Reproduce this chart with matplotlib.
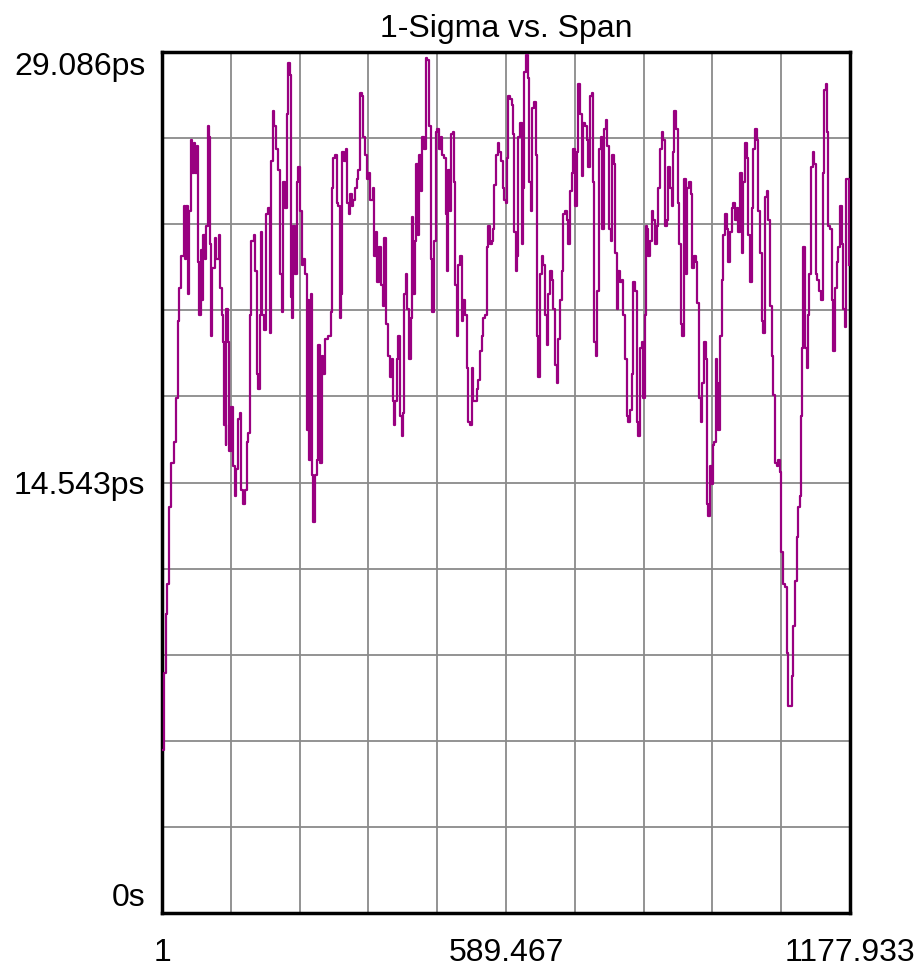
import matplotlib
matplotlib.use("Agg")
import matplotlib.pyplot as plt
import numpy as np

plt.rcParams['font.family'] = ['Liberation Sans', 'DejaVu Sans']

title = "1-Sigma vs. Span"
x_min, x_max = 1.0, 1177.933
y_min, y_max = 0.0, 29.086
x_tick_labels = {0: "1", 5: "589.467", 10: "1177.933"}
y_tick_labels = {0: "0s", 5: "14.543ps", 10: "29.086ps"}

span_a = [2, 4, 8, 10, 13, 17, 22, 25, 28, 30, 34, 38, 40, 42, 45, 48, 51, 53, 56, 58,
          61, 63, 65, 67, 69, 71, 75, 77, 79, 81, 83, 85, 87, 92, 94, 98, 100, 104, 106, 107,
          110, 111, 114, 116, 119, 122, 123, 126, 128, 131, 134, 136, 140, 143, 146, 148, 152, 154, 158, 160,
          163, 165, 168, 170, 172, 176, 179, 182, 186, 188, 191]
sigma_a = [5.5, 8.1, 10.1, 11.1, 13.7, 15.2, 15.9, 17.4, 20.0, 21.1, 22.2, 23.9, 22.1, 23.9, 20.9, 23.7, 26.1, 25.0, 26.0, 25.0,
           25.9, 22.0, 20.2, 22.4, 20.7, 22.9, 22.1, 23.2, 26.6, 26.2, 22.6, 19.5, 21.8, 22.8, 22.1, 22.9, 21.1, 20.2, 19.3, 16.5,
           15.8, 20.4, 19.3, 15.6, 17.1, 15.6, 15.1, 14.1, 15.0, 16.7, 16.9, 14.3, 13.8, 14.3, 15.9, 16.2, 20.2, 22.7, 22.9, 21.7,
           18.2, 17.7, 20.2, 23.0, 20.2, 19.7, 23.6, 23.8, 19.6, 25.4, 27.1]

span_b = [193.2, 196.0, 200.0, 202.9, 205.7, 208.6, 211.4, 214.3, 217.1, 220.0, 221.1, 222.8, 225.7, 228.5, 231.4,
          234.2, 237.1, 239.9, 242.8, 245.6, 248.5, 251.3, 253.0, 255.3, 257.0, 259.9, 262.7, 265.6, 268.4, 271.3,
          274.1, 277.0, 279.8, 285.5, 289.5, 292.4, 294.1, 296.9, 299.8, 302.6, 305.5, 307.2, 309.5, 312.3, 315.8,
          318.0, 320.9, 322.6, 325.5, 328.3, 331.2, 334.0, 336.9, 339.7, 342.6, 345.4, 348.3, 351.1, 354.0, 356.8,
          361.4, 363.7, 367.1, 369.4, 372.8, 375.6, 378.5, 381.3]
sigma_b = [26.6, 25.8, 25.1, 21.6, 20.3, 24.7, 23.8, 27.0, 28.7, 28.3, 20.8, 20.1, 23.2, 21.6, 24.7,
           25.2, 23.7, 21.9, 22.1, 21.6, 16.3, 20.7, 15.3, 20.9, 14.8, 13.2, 14.8, 15.3, 19.2, 15.2,
           18.8, 18.2, 19.4, 19.5, 20.3, 24.5, 25.5, 25.6, 24.0, 23.9, 20.1, 20.9, 25.7, 25.4, 25.8,
           24.0, 23.6, 24.3, 23.9, 24.1, 24.5, 24.8, 25.1, 27.7, 27.6, 26.2, 25.6, 24.8, 25.0, 24.1,
           24.5, 22.2, 23.0, 21.3, 22.5, 21.2, 20.5, 22.8]

span_c = [383.6, 385.0, 388.2, 391.0, 393.9, 395.6, 397.9, 399.6, 402.4, 405.3, 408.1, 411.0, 413.8, 415.6, 418.4,
          420.7, 423.5, 426.4, 429.2, 431.0, 433.8, 435.5, 438.4, 440.6, 443.5, 446.3, 449.2, 452.0, 454.9, 457.7,
          460.6, 463.5, 466.3, 469.2, 472.0, 474.9, 477.7, 480.6, 483.4, 486.3, 488.0, 490.8, 493.7, 495.4, 498.2,
          500.5, 502.2, 505.1, 507.9, 510.8, 513.6, 516.5, 519.3, 522.2, 525.0, 527.9, 530.7, 533.6, 536.4, 539.3,
          542.1, 545.0, 547.8, 550.7, 553.5, 556.4, 559.2, 562.1, 565.0, 567.8, 569.5]
sigma_c = [22.2, 19.9, 18.8, 18.1, 18.7, 17.3, 16.5, 17.3, 18.7, 19.5, 16.8, 16.1, 16.9, 20.9, 21.6,
           20.4, 18.7, 20.1, 23.5, 20.9, 22.7, 25.3, 22.9, 25.6, 24.4, 26.2, 25.8, 28.9, 28.8, 26.6,
           22.1, 20.3, 22.7, 26.4, 26.5, 25.8, 26.2, 25.6, 25.5, 23.6, 21.7, 25.1, 23.7, 26.3, 26.4,
           24.7, 21.2, 19.5, 21.9, 22.2, 20.0, 20.7, 20.2, 18.4, 16.6, 16.5, 18.4, 17.3, 17.3, 17.7,
           18.0, 19.0, 19.5, 20.1, 20.2, 22.5, 23.2, 22.6, 22.7, 23.1, 24.6]

span_d = [572.4, 575.2, 578.1, 580.9, 583.8, 586.0, 588.9, 591.7, 593.5, 596.3, 599.2, 602.0, 603.7, 606.6, 608.9,
          610.6, 613.4, 616.3, 619.1, 620.8, 623.7, 626.5, 629.4, 631.7, 634.5, 637.4, 640.2, 641.9, 644.8, 647.6,
          650.5, 653.3, 656.2, 659.0, 661.9, 664.7, 667.6, 670.4, 673.3, 676.1, 679.0, 681.8, 684.7, 687.5, 690.4,
          693.2, 696.1, 698.9, 701.8, 704.7, 707.5, 710.4, 713.2, 716.1, 718.9, 721.8, 724.6, 727.5, 730.3, 733.2,
          736.0, 737.7, 740.0, 743.4, 745.7, 748.6, 751.4, 754.3, 757.1]
sigma_d = [25.6, 26.0, 25.7, 25.4, 24.5, 24.1, 24.0, 25.5, 27.6, 27.5, 27.3, 26.3, 23.0, 21.7, 22.2,
           26.2, 26.7, 22.6, 24.5, 28.4, 29.0, 28.2, 24.7, 23.7, 27.2, 27.4, 25.6, 19.5, 18.1, 21.6,
           22.2, 21.9, 20.2, 19.2, 20.9, 21.7, 21.4, 20.4, 18.5, 17.9, 19.4, 20.7, 21.7, 23.6, 23.7,
           23.4, 22.6, 24.4, 25.0, 25.8, 23.9, 25.7, 28.0, 27.0, 24.9, 26.7, 26.6, 26.1, 25.2, 27.6,
           27.7, 24.7, 19.3, 18.8, 21.0, 25.8, 26.2, 23.1, 26.5]

span_e = [760.0, 762.8, 765.7, 768.5, 771.4, 774.2, 776.0, 778.8, 781.7, 784.5, 787.4, 790.2, 793.1, 795.9, 798.8,
          801.6, 804.5, 807.3, 810.2, 813.0, 815.9, 818.7, 821.6, 824.4, 827.8, 829.0, 830.1, 833.0, 835.8, 838.7,
          841.5, 844.4, 847.2, 850.1, 852.9, 855.8, 858.6, 861.5, 864.3, 867.2, 870.0, 872.9, 875.7, 877.5, 880.3,
          883.2, 886.0, 888.3, 891.1, 894.0, 896.8, 899.7, 902.5, 905.4, 908.3, 911.1, 914.0, 916.8, 919.7, 922.5,
          925.4, 928.2, 931.1, 932.8, 935.6, 938.5, 941.3, 944.2]
sigma_e = [26.8, 25.9, 23.1, 22.7, 25.6, 25.3, 22.3, 20.4, 21.7, 21.3, 21.4, 20.2, 18.7, 16.8, 16.6,
           17.0, 18.2, 21.3, 21.0, 16.6, 16.1, 19.1, 19.3, 17.4, 20.2, 23.2, 23.1, 22.2, 22.7, 23.7,
           23.4, 22.6, 23.2, 24.5, 25.8, 26.4, 26.1, 23.2, 23.4, 25.2, 24.5, 23.9, 25.7, 27.1, 26.5,
           24.0, 22.6, 19.9, 19.5, 24.8, 21.6, 24.5, 24.7, 24.3, 21.8, 22.2, 22.0, 20.6, 17.4, 16.6,
           17.9, 19.3, 18.7, 13.8, 13.4, 15.1, 14.5, 15.8]

span_f = [945.3, 948.8, 951.0, 952.8, 955.6, 958.5, 961.3, 964.2, 967.0, 969.9, 972.7, 975.6, 978.4, 981.3, 984.1,
          987.0, 989.8, 992.7, 995.5, 998.4, 1001.2, 1004.1, 1006.9, 1009.8, 1012.6, 1015.5, 1018.3, 1021.2, 1024.0, 1026.9,
          1029.7, 1032.6, 1035.4, 1038.3, 1041.1, 1044.0, 1046.8, 1049.7, 1052.5, 1055.4, 1058.2, 1059.4, 1063.9, 1066.8, 1069.6,
          1072.5, 1075.3, 1078.2, 1081.1, 1083.9, 1086.8, 1089.6, 1092.5, 1093.6, 1095.3, 1097.0, 1099.3, 1101.0, 1103.9, 1105.6,
          1108.4, 1111.3, 1114.1, 1117.0, 1119.8, 1122.1, 1125.0, 1128.4, 1131.2, 1134.1, 1136.9, 1139.2, 1140.9, 1143.8, 1146.6,
          1149.5, 1152.3, 1155.2, 1158.0, 1160.9, 1163.7, 1166.6, 1169.4, 1171.1, 1176.0]
sigma_f = [15.9, 18.7, 17.9, 16.3, 19.5, 21.4, 22.9, 23.6, 23.1, 22.0, 23.0, 23.8, 24.0, 23.4, 23.8,
           23.0, 25.0, 22.3, 24.7, 26.0, 25.5, 22.9, 21.3, 23.8, 25.8, 26.5, 26.1, 23.7, 22.3, 20.0,
           19.6, 24.2, 24.4, 23.4, 20.5, 18.8, 17.5, 15.2, 15.1, 15.3, 14.9, 12.2, 11.1, 11.0, 8.8,
           7.0, 7.0, 8.0, 9.7, 11.2, 12.7, 13.7, 14.1, 16.8, 19.1, 22.5, 22.5, 19.1, 18.4, 20.2,
           21.6, 25.2, 25.7, 25.3, 21.6, 21.4, 21.0, 20.7, 25.0, 27.8, 28.0, 26.4, 23.2, 23.1, 20.7,
           19.0, 21.1, 22.0, 22.5, 23.9, 22.6, 20.4, 19.8, 24.8, 21.9]

span = span_a + span_b + span_c + span_d + span_e + span_f
sigma_ps = sigma_a + sigma_b + sigma_c + sigma_d + sigma_e + sigma_f

fig = plt.figure(figsize=(9.21, 9.71), dpi=100)
ax = fig.add_axes([162 / 921, 58 / 971, 688 / 921, 861 / 971])

ax.plot(span, sigma_ps, color='#990080', lw=1.6, drawstyle='steps-post', zorder=3)

ax.set_xlim(x_min, x_max)
ax.set_ylim(y_min, y_max)

xt = np.linspace(x_min, x_max, 11)
yt = np.linspace(y_min, y_max, 11)
ax.set_xticks(xt)
ax.set_yticks(yt)
ax.set_xticklabels([x_tick_labels.get(i, "") for i in range(11)], fontsize=23)
ax.set_yticklabels([y_tick_labels.get(i, "") for i in range(11)], fontsize=23)
ax.tick_params(axis='both', length=0)
ax.tick_params(axis='x', pad=18)
ax.tick_params(axis='y', pad=12)
ylabels = ax.get_yticklabels()
ylabels[0].set_va('bottom')
ylabels[10].set_va('top')

ax.grid(True, color='#8a8a8a', lw=1.3, zorder=1)
ax.set_axisbelow(True)
for s in ax.spines.values():
    s.set_linewidth(2.5)
    s.set_color('black')

ax.set_title(title, fontsize=23, pad=11)

fig.savefig("out.png", dpi=100)
